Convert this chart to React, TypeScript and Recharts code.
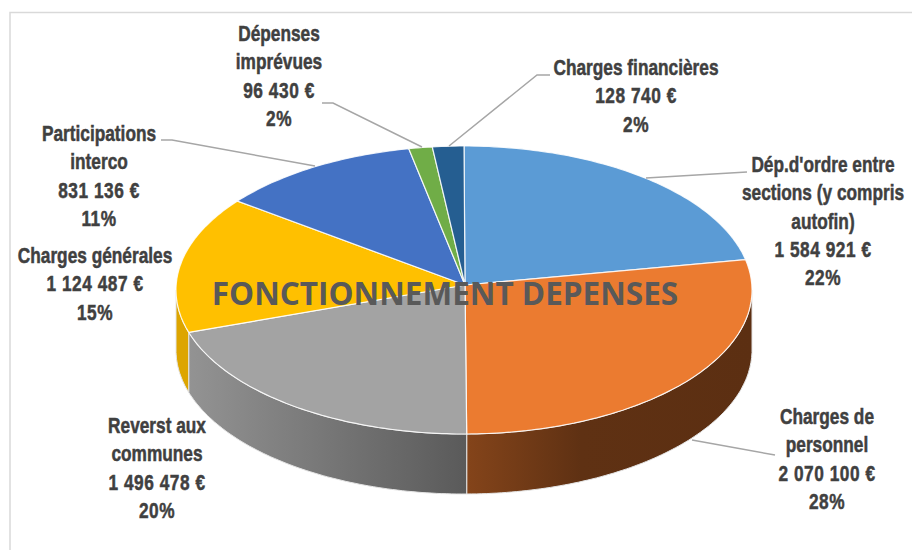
import { Pie, PieChart } from "recharts";

const categories = [
  ["Dép.d'ordre entre", "sections (y compris", "autofin)"],
  ["Charges de", "personnel"],
  ["Reverst aux", "communes"],
  ["Charges générales"],
  ["Participations", "interco"],
  ["Dépenses", "imprévues"],
  ["Charges financières"],
];
const amounts = [1584921, 2070100, 1496478, 1124487, 831136, 96430, 128740];
const percentLabels = ["22%", "28%", "20%", "15%", "11%", "2%", "2%"];

const topColors = ["#5B9BD5", "#EB7B30", "#A3A3A3", "#FFC000", "#4472C4", "#70AD47", "#255E91"];
const wallFills = ["#3f6f9c", "url(#wallOrange)", "url(#wallGray)", "#DDA500", "#2f5597", "#4e7a32", "#1a4368"];

// label block centre x, first line centre y
const labelAnchors = [
  [823, 164],
  [827, 416],
  [157, 425],
  [95, 255],
  [99, 133],
  [279, 33],
  [636, 67],
];
const leaderLines = [
  "747,172 646,178",
  "775,455 692,440",
  "",
  "",
  "161,140 172,140 315,166",
  "322,103 333,103 422,147",
  "550,75 537,75 449,146",
];

// apex of the pie sits a little above the centre of the rim ellipse (perspective)
const CX = 465;
const CY = 285;
const RIM_CX = 464;
const RIM_CY = 290;
const RADIUS = 288;
const RIM_RY = 144;
const DEPTH = 60;
const LINE_HEIGHT = 28.4;
const LABEL_SQUEEZE = 0.785;

const chartData = amounts.map((value, i) => ({ name: categories[i].join(" "), value, index: i }));

const formatAmount = (v: number) => v.toString().replace(/\B(?=(\d{3})+$)/g, " ") + " €";

// pie angle (recharts degrees) to a point on the squashed rim
function rimPoint(angle: number) {
  const rad = (angle * Math.PI) / 180;
  return {
    x: RIM_CX + RADIUS * Math.cos(rad),
    y: RIM_CY - RIM_RY * Math.sin(rad),
  };
}

function arcPoints(from: number, to: number) {
  const steps = Math.max(2, Math.ceil(Math.abs(from - to)));
  const pts = [];
  for (let i = 0; i <= steps; i++) pts.push(rimPoint(from + ((to - from) * i) / steps));
  return pts;
}

function Slice3D(props: any) {
  const { startAngle, endAngle, index } = props;
  const top = arcPoints(startAngle, endAngle);
  const topPath =
    `M${CX},${CY} ` + top.map((p) => `L${p.x.toFixed(1)},${p.y.toFixed(1)}`).join(" ") + " Z";

  // only the front half of the rim shows a wall
  const wallStart = Math.min(startAngle, 0);
  const wallEnd = Math.max(endAngle, -180);
  let wall = null;
  if (wallStart > wallEnd) {
    const rim = arcPoints(wallStart, wallEnd);
    const d =
      rim.map((p, i) => `${i ? "L" : "M"}${p.x.toFixed(1)},${p.y.toFixed(1)}`).join(" ") +
      " " +
      rim
        .slice()
        .reverse()
        .map((p) => `L${p.x.toFixed(1)},${(p.y + DEPTH).toFixed(1)}`)
        .join(" ") +
      " Z";
    wall = <path d={d} fill={wallFills[index]} stroke="#e4e4e4" strokeWidth={1} />;
  }

  return (
    <g>
      {wall}
      <path d={topPath} fill={topColors[index]} stroke="#ffffff" strokeOpacity={0.85} strokeWidth={1.2} />
    </g>
  );
}

function SliceLabel(props: any) {
  const { index } = props;
  const [x, y] = labelAnchors[index];
  const names = categories[index];
  const lines = [...names, formatAmount(amounts[index]), percentLabels[index]];
  return (
    <g>
      {leaderLines[index] && (
        <polyline points={leaderLines[index]} fill="none" stroke="#a6a6a6" strokeWidth={1.5} />
      )}
      <text
        transform={`translate(${x} 0) scale(${LABEL_SQUEEZE} 1)`}
        textAnchor="middle"
        fontFamily="'Liberation Sans', sans-serif"
        fontWeight={700}
        fontSize={22}
        fill="#404040"
        stroke="#404040"
        strokeWidth={0.5}
      >
        {lines.map((line, i) => (
          <tspan
            key={i}
            x={0}
            y={y + i * LINE_HEIGHT}
            dominantBaseline="central"
            letterSpacing={i >= names.length ? 0.7 : 0}
          >
            {line}
          </tspan>
        ))}
      </text>
      {/* pie layer paints over plain chart children, so the title rides on the last label */}
      {index === amounts.length - 1 && (
        <text
          x={445}
          y={292}
          textAnchor="middle"
          dominantBaseline="central"
          fontFamily="'Open Sans', sans-serif"
          fontWeight={700}
          fontSize={31.5}
          fill="#595959"
        >
          FONCTIONNEMENT DEPENSES
        </text>
      )}
    </g>
  );
}

export default function App() {
  return (
    <div style={{ position: "absolute", left: 0, top: 0, width: 912, height: 550, background: "#fff" }}>
      <PieChart width={912} height={550} margin={{ top: 0, right: 0, bottom: 0, left: 0 }}>
        <defs>
          <linearGradient id="wallGray" x1="0" y1="0" x2="1" y2="0">
            <stop offset="0%" stopColor="#939393" />
            <stop offset="100%" stopColor="#5a5a5a" />
          </linearGradient>
          <linearGradient id="wallOrange" x1="0" y1="0" x2="1" y2="0">
            <stop offset="0%" stopColor="#84441a" />
            <stop offset="40%" stopColor="#5f3113" />
            <stop offset="100%" stopColor="#5c2f12" />
          </linearGradient>
        </defs>
        <rect x={10} y={12.5} width={920} height={560} fill="none" stroke="#d9d9d9" strokeWidth={1.5} />
        <Pie
          data={chartData}
          dataKey="value"
          nameKey="name"
          cx={CX}
          cy={CY}
          innerRadius={0}
          outerRadius={RADIUS}
          startAngle={90}
          endAngle={-270}
          shape={Slice3D}
          label={SliceLabel}
          labelLine={false}
          isAnimationActive={false}
        />
      </PieChart>
    </div>
  );
}
